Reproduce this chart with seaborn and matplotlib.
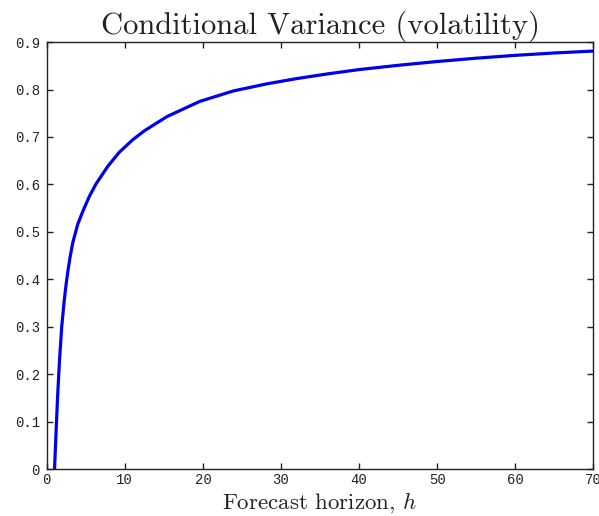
import matplotlib
matplotlib.use("Agg")
import matplotlib.pyplot as plt
import seaborn as sns
import pandas as pd

# Data
horizon = [1, 1.2, 1.4, 1.62, 1.92, 2.22, 2.47, 2.69, 2.98, 3.33, 3.97,
           4.61, 5.46, 6.31, 7.81, 9.3, 11.0, 12.5, 15.4, 19.6, 23.9, 28.2,
           32.0, 36, 40, 45, 50, 55, 60, 65, 70]
variance = [0.0, 0.080, 0.155, 0.225, 0.300, 0.352, 0.388, 0.415, 0.446,
            0.477, 0.516, 0.543, 0.575, 0.601, 0.638, 0.668, 0.694, 0.713,
            0.743, 0.775, 0.797, 0.812, 0.823, 0.833, 0.842, 0.851, 0.859,
            0.866, 0.872, 0.877, 0.881]
x_ticks = [0, 10, 20, 30, 40, 50, 60, 70]
y_ticks = [0, 0.1, 0.2, 0.3, 0.4, 0.5, 0.6, 0.7, 0.8, 0.9]
y_tick_labels = ["0", "0.1", "0.2", "0.3", "0.4", "0.5", "0.6", "0.7", "0.8", "0.9"]

df = pd.DataFrame({"h": horizon, "var": variance})

sns.set_style("ticks")
plt.rcParams["mathtext.fontset"] = "cm"
plt.rcParams["xtick.direction"] = "in"
plt.rcParams["ytick.direction"] = "in"

fig = plt.figure(figsize=(5.99, 5.16), dpi=100)
ax = fig.add_axes([0.078, 0.0905, 0.9125, 0.828])

sns.lineplot(data=df, x="h", y="var", ax=ax, color="#0000ee", linewidth=2.3,
             sort=False)

ax.set_xlim(0, 70)
ax.set_ylim(0, 0.9)
ax.set_xticks(x_ticks)
ax.set_xticklabels([str(t) for t in x_ticks])
ax.set_yticks(y_ticks)
ax.set_yticklabels(y_tick_labels)
ax.tick_params(axis="both", which="both", direction="in", length=4, width=1,
               top=True, right=True, labelsize=10, colors="#222222", pad=5)
ax.tick_params(axis="x", pad=3)
for lab in ax.get_xticklabels() + ax.get_yticklabels():
    lab.set_family("Liberation Mono")

for sp in ax.spines.values():
    sp.set_visible(True)
    sp.set_color("#222222")
    sp.set_linewidth(1.0)

ax.set_title("Conditional Variance (volatility)", family="cmr10", fontsize=22,
             pad=5, color="#222222")
ax.set_xlabel(r"Forecast horizon, $h$", family="cmr10", fontsize=16.5,
              color="#222222")
ax.xaxis.set_label_coords(0.5, -0.049)
ax.xaxis.label.set_verticalalignment("top")
ax.set_ylabel("")

fig.savefig("out.png", dpi=100)
